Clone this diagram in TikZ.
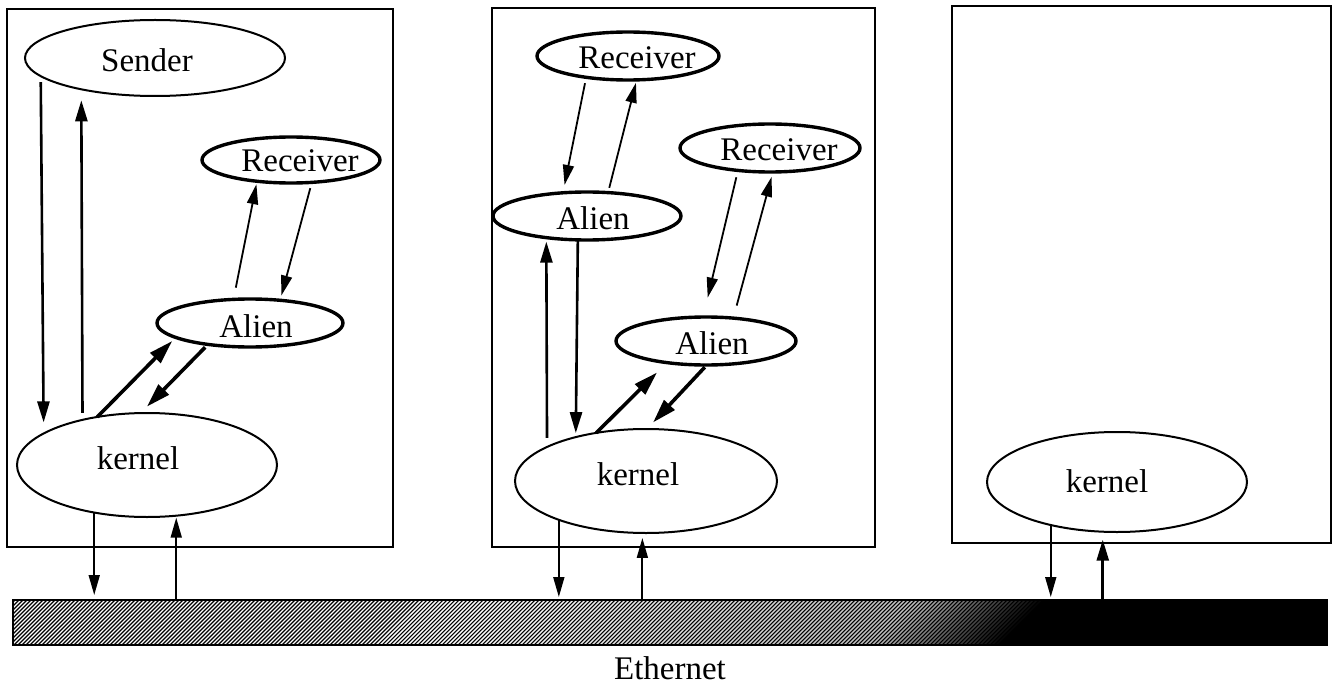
\documentclass[tikz,border=0pt]{standalone}
\usepackage{fontspec}
\setmainfont{Liberation Serif}
\usetikzlibrary{shapes.geometric,arrows.meta}
\begin{document}
\begin{tikzpicture}[x=1pt,y=-1pt,
  every node/.style={inner sep=0pt, outer sep=0pt},
  hostbox/.style={draw, rectangle, line width=2pt},
  proc/.style={draw, ellipse, line width=2pt},
  thickproc/.style={draw, ellipse, line width=3.4pt},
  lbl/.style={font=\fontsize{33}{36}\selectfont},
  msg/.style={line width=1.8pt, -{Triangle[length=20pt,width=11pt]}},
  call/.style={line width=2.6pt, -{Triangle[length=21pt,width=12pt]}},
  bulk/.style={line width=3.6pt, -{Triangle[length=24pt,width=14pt]}},
]
\useasboundingbox (0,0) rectangle (1333,687);

% three hosts
\node[hostbox, minimum width=386pt, minimum height=538pt] (hostA) at (200,278) {};
\node[hostbox, minimum width=383pt, minimum height=539pt] (hostB) at (683.5,277.5) {};
\node[hostbox, minimum width=379pt, minimum height=537pt] (hostC) at (1141.5,274.5) {};

% host A
\node[proc, minimum width=260pt, minimum height=76pt] (snd) at (155,58) {};
\node[lbl] (sndt) at (147,60) {Sender};
\node[thickproc, minimum width=178pt, minimum height=46pt] (rcvL) at (291,160) {};
\node[lbl] (rcvLt) at (300,161) {Receiver};
\node[thickproc, minimum width=186pt, minimum height=48pt] (alnL) at (250,323) {};
\node[lbl] (alnLt) at (256,326) {Alien};
\node[proc, minimum width=260pt, minimum height=104pt] (krnL) at (147,465) {};
\node[lbl] (krnLt) at (138,458) {kernel};

% host B
\node[thickproc, minimum width=182pt, minimum height=48pt] (rcvT) at (628,56) {};
\node[lbl] (rcvTt) at (637,58) {Receiver};
\node[thickproc, minimum width=188pt, minimum height=48pt] (alnT) at (587,216) {};
\node[lbl] (alnTt) at (593,218) {Alien};
\node[thickproc, minimum width=180pt, minimum height=48pt] (rcvR) at (770,148) {};
\node[lbl] (rcvRt) at (779,150) {Receiver};
\node[thickproc, minimum width=180pt, minimum height=48pt] (alnR) at (706,341) {};
\node[lbl] (alnRt) at (712,343) {Alien};
\node[proc, minimum width=262pt, minimum height=104pt] (krnM) at (646,481) {};
\node[lbl] (krnMt) at (638,474) {kernel};

% host C
\node[proc, minimum width=260pt, minimum height=100pt] (krnE) at (1117,482) {};
\node[lbl] (krnEt) at (1107,481) {kernel};

% the shared network
\node[minimum width=1314pt, minimum height=45pt] (eth) at (670,622.5) {};
\begin{scope}
  \clip (eth.south west) rectangle (eth.north east);
  \fill[black] (eth.south west) rectangle (eth.north east);
  \foreach \x in {-44,-40,...,1330}{
    \pgfmathsetmacro\w{\x<450 ? 100 : (\x<870 ? 100-(\x-450)/420*25 : max(0,(1000-\x)/130*75))}
    \draw[line width=1.4pt, color=white!\w!black] (\x,645) -- ({\x+45},600);
  }
\end{scope}
\draw[line width=2pt] (eth.south west) rectangle (eth.north east);
\node[lbl] (etht) at (670,668) {Ethernet};

% host A traffic
\draw[call, shorten <=6pt, shorten >=11pt] (snd.189.45) -- (krnL.163.7);
\draw[call, shorten <=7pt, shorten >=11pt] (krnL.145.3) -- (snd.203.3);
\draw[msg, shorten <=12pt, shorten >=3pt] (alnL.125.8) -- (rcvL.212.1);
\draw[msg, shorten <=6pt, shorten >=5pt] (rcvL.313.2) -- (alnL.37.1);
\draw[bulk, shorten >=5pt] (krnL.136.2) -- (alnL.191.9);
\draw[bulk, shorten <=4pt, shorten >=9pt] (alnL.207) -- (krnL.97.7);
\draw[msg, shorten >=5pt] (krnL.222.5) -- (krnL.222.5 |- eth.north);
\draw[msg, shorten >=2pt] (krnL.300.7 |- eth.north) -- (krnL.300.7);

% host B traffic
\draw[msg, shorten <=6pt, shorten >=8pt] (rcvT.207.6) -- (alnT.136);
\draw[msg, shorten <=5pt, shorten >=3pt] (alnT.48.1) -- (rcvT.290.6);
\draw[call, shorten <=9pt, shorten >=4pt] (krnM.161) -- (alnT.208.5);
\draw[call, shorten >=4pt] (alnT.249.4) -- (krnM.148.4);
\draw[msg, shorten <=7pt, shorten >=20pt] (rcvR.215) -- (alnR.97.1);
\draw[msg, shorten <=13pt, shorten >=5pt] (alnR.40.3) -- (rcvR.277.1);
\draw[bulk, shorten >=14pt] (krnM.136.8) -- (alnR.209);
\draw[bulk, shorten <=3pt, shorten >=9pt] (alnR.272.4) -- (krnM.89.6);
\draw[msg, shorten >=3pt] (krnM.204.5) -- (krnM.204.5 |- eth.north);
\draw[msg, shorten >=5pt] (krnM.266.7 |- eth.north) -- (krnM.266.7);

% host C traffic
\draw[msg, shorten >=3pt] (krnE.213.7) -- (krnE.213.7 |- eth.north);
\draw[call, shorten >=8pt] (krnE.254.3 |- eth.north) -- (krnE.254.3);
\end{tikzpicture}
\end{document}
